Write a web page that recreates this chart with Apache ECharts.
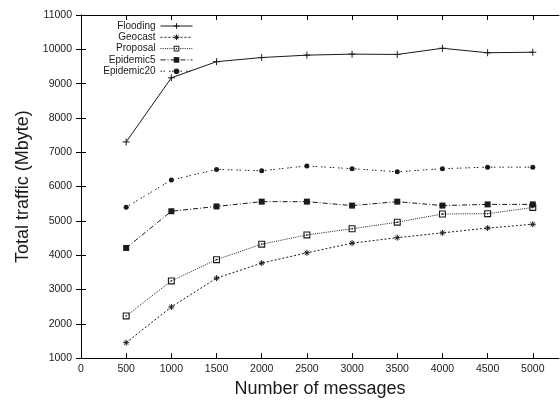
<!DOCTYPE html>
<html>
<head>
<meta charset="utf-8">
<script src="https://cdn.jsdelivr.net/npm/echarts@6/dist/echarts.min.js"></script>
<style>
  html, body { margin: 0; padding: 0; background: #fff; }
  #chart { width: 560px; height: 403px; }
</style>
</head>
<body>
<div id="chart"></div>
<script>
// Number of messages on the x axis
const messages = [500, 1000, 1500, 2000, 2500, 3000, 3500, 4000, 4500, 5000];
const xTicks = [0, 500, 1000, 1500, 2000, 2500, 3000, 3500, 4000, 4500, 5000];

// Total traffic (Mbyte) per protocol
const flooding   = [7300, 9170, 9640, 9760, 9830, 9860, 9850, 10030, 9900, 9915];
const geocast    = [1450, 2490, 3330, 3770, 4070, 4350, 4510, 4650, 4790, 4900];
const proposal   = [2230, 3250, 3870, 4320, 4590, 4770, 4960, 5200, 5210, 5390];
const epidemic5  = [4210, 5280, 5420, 5560, 5560, 5445, 5560, 5445, 5480, 5480];
const epidemic20 = [5400, 6190, 6500, 6460, 6600, 6520, 6430, 6520, 6565, 6565];

const seriesNames = ['Flooding', 'Geocast', 'Proposal', 'Epidemic5', 'Epidemic20'];

const FONT = 'Liberation Sans, Arial, Helvetica, sans-serif';
const INK = '#1a1a1a';

const pairs = ys => messages.map((m, i) => [m, ys[i]]);

// point glyphs in the style of gnuplot
const plusSym = 'path://M0,5H10M5,0V10';
const starSym = 'path://M0,5H10M5,0V10M1.5,1.5L8.5,8.5M8.5,1.5L1.5,8.5';
const boxSym = 'path://M0,0H10V10H0ZM1.6,1.6V8.4H8.4V1.6ZM4,4H6V6H4Z';

// glyphs drawn as strokes need a border; solid ones do not
const stroked = { Flooding: true, Geocast: true, Proposal: false, Epidemic5: false, Epidemic20: false };

function lineSeries(name, ys, symbol, size, dash) {
  return {
    name: name,
    type: 'line',
    data: pairs(ys),
    symbol: symbol,
    symbolSize: size,
    showAllSymbol: true,
    color: INK,
    lineStyle: { color: INK, width: 1, type: dash },
    itemStyle: stroked[name]
      ? { color: INK, borderColor: INK, borderWidth: 1 }
      : { color: INK, borderWidth: 0 },
    emphasis: { disabled: true },
    z: 3
  };
}

const chart = echarts.init(document.getElementById('chart'), null, { renderer: 'canvas' });

const axisCommon = {
  axisLine: { show: true, lineStyle: { color: '#000', width: 1 } },
  axisTick: { show: true, inside: true, length: 5, lineStyle: { color: '#000', width: 1 } },
  splitLine: { show: false }
};

const plain = v => String(v);

chart.setOption({
  animation: false,
  backgroundColor: '#fff',
  textStyle: { fontFamily: FONT, color: INK },
  grid: { left: 81, right: 1, top: 15, bottom: 35, containLabel: false },
  legend: {
    data: seriesNames.map(n => ({
      name: n,
      itemStyle: { borderWidth: stroked[n] ? 1 : 0 },
      lineStyle: { width: 1 }
    })),
    orient: 'vertical',
    align: 'right',
    right: 367,
    top: 21,
    padding: 0,
    itemWidth: 32,
    itemHeight: 7,
    itemGap: 1.3,
    selectedMode: false,
    lineStyle: { width: 1 },
    textStyle: { fontFamily: FONT, fontSize: 10, color: INK }
  },
  xAxis: [
    Object.assign({}, axisCommon, {
      type: 'value',
      position: 'bottom',
      min: 0,
      max: 5290,
      interval: 500,
      name: 'Number of messages',
      nameLocation: 'middle',
      nameGap: 19,
      nameTextStyle: { fontFamily: FONT, fontSize: 18, color: INK },
      axisTick: Object.assign({}, axisCommon.axisTick, { customValues: xTicks }),
      axisLabel: { customValues: xTicks, formatter: plain, fontFamily: FONT, fontSize: 10.5, color: INK, margin: 6 }
    }),
    Object.assign({}, axisCommon, {
      type: 'value',
      position: 'top',
      min: 0,
      max: 5290,
      interval: 500,
      axisTick: Object.assign({}, axisCommon.axisTick, { customValues: xTicks }),
      axisLabel: { show: false }
    })
  ],
  yAxis: [
    Object.assign({}, axisCommon, {
      type: 'value',
      position: 'left',
      min: 1000,
      max: 11000,
      interval: 1000,
      name: 'Total traffic (Mbyte)',
      nameLocation: 'middle',
      nameGap: 44,
      nameTextStyle: { fontFamily: FONT, fontSize: 18, color: INK },
      axisLabel: { formatter: plain, fontFamily: FONT, fontSize: 10.5, color: INK, margin: 9 }
    }),
    Object.assign({}, axisCommon, {
      type: 'value',
      position: 'right',
      min: 1000,
      max: 11000,
      interval: 1000,
      axisLabel: { show: false }
    })
  ],
  series: [
    lineSeries('Flooding', flooding, plusSym, 7, 'solid'),
    lineSeries('Geocast', geocast, starSym, 6, [2, 2]),
    lineSeries('Proposal', proposal, boxSym, 7, [1, 1.2]),
    lineSeries('Epidemic5', epidemic5, 'rect', 6, [5, 2, 1, 2]),
    lineSeries('Epidemic20', epidemic20, 'circle', 5, [1.5, 1.5, 1.5, 4])
  ]
});
</script>
</body>
</html>
